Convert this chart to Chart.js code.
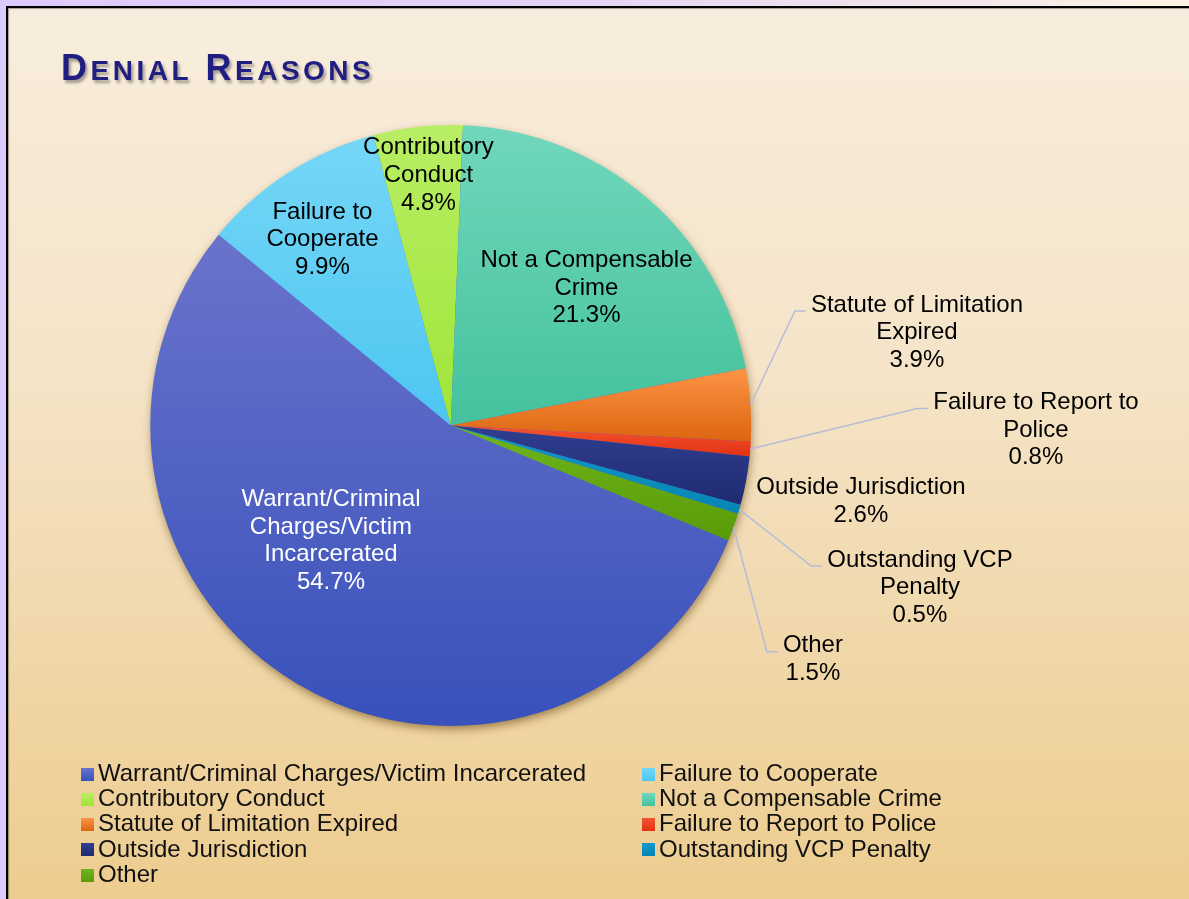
<!DOCTYPE html>
<html>
<head>
<meta charset="utf-8">
<title>Denial Reasons</title>
<script src="https://cdn.jsdelivr.net/npm/chart.js@4/dist/chart.umd.min.js"></script>
<style>
html,body{margin:0;padding:0;width:1189px;height:899px;overflow:hidden;}
body{position:relative;background:linear-gradient(to right,#dccbfd 0%,#e2d2f6 45%,#fbf3e4 100%);font-family:"Liberation Sans",Arial,sans-serif;}
#frame{position:absolute;left:6px;top:6px;width:1200px;height:900px;border-top:2px solid #000;border-left:2px solid #000;
  background:linear-gradient(180deg,#f8eddd 0%,#f5e4c8 40%,#f0d6a6 75%,#edcc8e 100%);box-shadow:inset 1px 1px 1px rgba(0,0,0,.35);}
#chart{position:absolute;left:0;top:0;}
#title{position:absolute;left:61px;top:50px;font-size:36px;line-height:36px;font-weight:bold;color:#211e82;letter-spacing:3.5px;white-space:nowrap;
  text-shadow:2px 3px 3px rgba(0,0,0,.35);}
#title .sc{font-size:28px;}
.item{position:absolute;height:25px;line-height:25px;font-size:24px;color:#111;white-space:nowrap;}
.sw{position:absolute;width:13px;height:13px;}
</style>
</head>
<body>
<div id="frame"></div>
<canvas id="chart" width="1189" height="899"></canvas>
<div id="title">D<span class="sc">ENIAL</span> R<span class="sc">EASONS</span></div>
<div id="legend"></div>
<script>
// ---- data ----
const categories = [
  "Warrant/Criminal Charges/Victim Incarcerated",
  "Failure to Cooperate",
  "Contributory Conduct",
  "Not a Compensable Crime",
  "Statute of Limitation Expired",
  "Failure to Report to Police",
  "Outside Jurisdiction",
  "Outstanding VCP Penalty",
  "Other"
];
const percentages = [54.7, 9.9, 4.8, 21.3, 3.9, 0.8, 2.6, 0.5, 1.5];
const labelLines = [
  ["Warrant/Criminal", "Charges/Victim", "Incarcerated"],
  ["Failure to", "Cooperate"],
  ["Contributory", "Conduct"],
  ["Not a Compensable", "Crime"],
  ["Statute of Limitation", "Expired"],
  ["Failure to Report to", "Police"],
  ["Outside Jurisdiction"],
  ["Outstanding VCP", "Penalty"],
  ["Other"]
];

// ---- styles / layout ----
const rotation = 112.5;
const sliceColors = [
  ["#6a73cb", "#3851bb"],
  ["#75d7f7", "#4dc6f1"],
  ["#b8ee64", "#9fe538"],
  ["#71d7bc", "#44c29d"],
  ["#fd9446", "#dc6510"],
  ["#f5542f", "#e23214"],
  ["#2f3f8f", "#1f2a72"],
  ["#1299c9", "#0884b4"],
  ["#6db51d", "#599b08"]
];
const labelOffsets = [
  [-119.8, 113.5], [-128.3, -187.9], [-22.3, -252.1], [135.7, -139.5],
  [466.2, -94.9], [585.2, 2.6], [410.2, 73.8], [469.2, 160.1], [362.2, 232]
];
const labelColors = ["#ffffff", "#000", "#000", "#000", "#000", "#000", "#000", "#000", "#000"];
const leaderLines = [false, false, false, false, true, true, false, true, true];

function sliceGradient(c) {
  const chart = c.chart, area = chart.chartArea, i = c.dataIndex;
  const cols = sliceColors[i];
  if (!area || i === undefined) return cols[0];
  const cx = (area.left + area.right) / 2, cy = (area.top + area.bottom) / 2;
  const r = Math.min(area.right - area.left, area.bottom - area.top) / 2;
  const total = percentages.reduce((s, v) => s + v, 0);
  let before = 0;
  for (let k = 0; k < i; k++) before += percentages[k];
  const a0 = rotation + before / total * 360, a1 = a0 + percentages[i] / total * 360;
  const ys = [cy, cy - r * Math.cos(a0 * Math.PI / 180), cy - r * Math.cos(a1 * Math.PI / 180)];
  for (let k = Math.ceil(a0 / 180) * 180; k <= a1; k += 180) ys.push(cy - r * Math.cos(k * Math.PI / 180));
  const y0 = Math.min(...ys), y1 = Math.max(...ys);
  const g = chart.ctx.createLinearGradient(0, y0, 0, y1 + 0.01);
  g.addColorStop(0, cols[0]);
  g.addColorStop(1, cols[1]);
  return g;
}

const shadowPlugin = {
  id: 'pieShadow',
  beforeDatasetsDraw(chart) {
    const a = chart.getDatasetMeta(0).data[0];
    if (!a) return;
    const p = a.getProps(['x', 'y', 'outerRadius'], true);
    const ctx = chart.ctx;
    ctx.save();
    ctx.shadowColor = 'rgba(90,60,10,0.6)';
    ctx.shadowBlur = 10;
    ctx.shadowOffsetX = 1;
    ctx.shadowOffsetY = 4;
    ctx.beginPath();
    ctx.arc(p.x, p.y, p.outerRadius - 1, 0, Math.PI * 2);
    ctx.fillStyle = '#4a62d0';
    ctx.fill();
    ctx.restore();
  }
};

const labelPlugin = {
  id: 'sliceLabels',
  afterDatasetsDraw(chart) {
    const meta = chart.getDatasetMeta(0);
    const ctx = chart.ctx;
    ctx.save();
    ctx.font = '24px "Liberation Sans", Arial, sans-serif';
    ctx.textAlign = 'center';
    ctx.textBaseline = 'alphabetic';
    const lh = 27.6;
    meta.data.forEach((arc, i) => {
      const p = arc.getProps(['x', 'y', 'startAngle', 'endAngle', 'outerRadius'], true);
      const lines = labelLines[i].concat([percentages[i].toFixed(1) + '%']);
      const bx = p.x + labelOffsets[i][0], by = p.y + labelOffsets[i][1];
      const firstY = by - (lines.length - 1) / 2 * lh;
      if (leaderLines[i]) {
        const mid = (p.startAngle + p.endAngle) / 2;
        const sx = p.x + Math.cos(mid) * p.outerRadius, sy = p.y + Math.sin(mid) * p.outerRadius;
        const w = ctx.measureText(lines[0]).width;
        const ex = bx - w / 2 - 5, ey = firstY + 8;
        ctx.beginPath();
        ctx.moveTo(sx, sy);
        ctx.lineTo(ex - 11, ey);
        ctx.lineTo(ex, ey);
        ctx.strokeStyle = '#b7bbd8';
        ctx.lineWidth = 1.5;
        ctx.stroke();
      }
      ctx.fillStyle = labelColors[i];
      lines.forEach((t, k) => ctx.fillText(t, bx, firstY + k * lh + 8.6));
    });
    ctx.restore();
  }
};

new Chart(document.getElementById('chart'), {
  type: 'pie',
  data: {
    labels: categories,
    datasets: [{
      data: percentages,
      backgroundColor: sliceGradient,
      borderWidth: 0,
      hoverOffset: 0
    }]
  },
  options: {
    responsive: false,
    animation: false,
    rotation: rotation,
    layout: { padding: { left: 150, top: 125, right: 437.5, bottom: 173 } },
    plugins: { legend: { display: false }, tooltip: { enabled: false } }
  },
  plugins: [shadowPlugin, labelPlugin]
});

// ---- legend ----
const legend = document.getElementById('legend');
const colX = [81, 642], rowTop = 767.7, rowStep = 25.25;
categories.forEach((name, i) => {
  const col = i % 2, row = Math.floor(i / 2);
  const sw = document.createElement('div');
  sw.className = 'sw';
  sw.style.left = colX[col] + 'px';
  sw.style.top = (rowTop + row * rowStep) + 'px';
  sw.style.background = 'linear-gradient(180deg,' + sliceColors[i][0] + ',' + sliceColors[i][1] + ')';
  legend.appendChild(sw);
  const it = document.createElement('div');
  it.className = 'item';
  it.style.left = (colX[col] + 17) + 'px';
  it.style.top = (rowTop - 7.8 + row * rowStep) + 'px';
  it.textContent = name;
  legend.appendChild(it);
});
</script>
</body>
</html>
